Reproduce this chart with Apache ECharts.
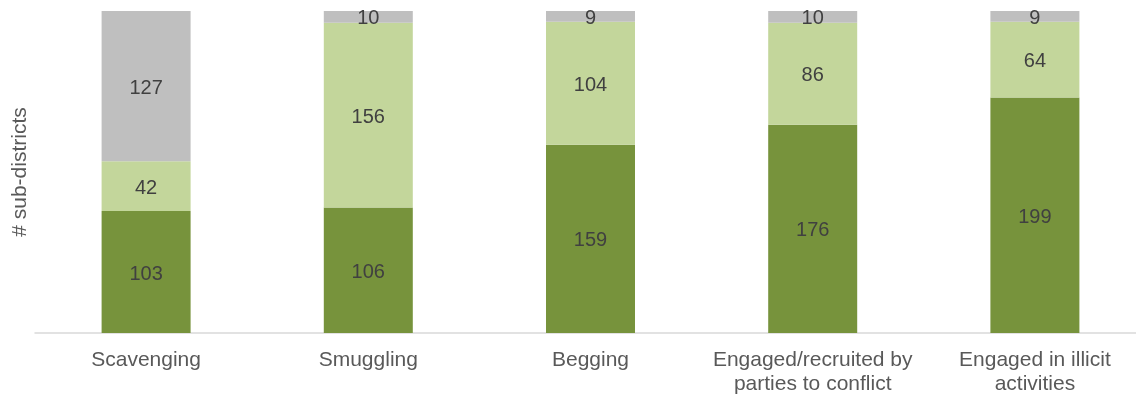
<!DOCTYPE html>
<html lang="en">
<head>
    <meta charset="utf-8" />
    <title># sub-districts</title>
    <script src="https://cdn.jsdelivr.net/npm/echarts@6/dist/echarts.min.js"></script>
    <style>
        body { margin: 0; background-color: #fff; }
        #main { width: 1136px; height: 394px; }
    </style>
</head>
<body>
<div id="main"></div>
<script type="text/javascript">
    let categories = ['Scavenging', 'Smuggling', 'Begging', 'Engaged/recruited by\nparties to conflict', 'Engaged in illicit\nactivities']
    let valuesDark = [103, 106, 159, 176, 199]
    let valuesLight = [42, 156, 104, 86, 64]
    let valuesGrey = [127, 10, 9, 10, 9]

    let colorDark = '#77933C'
    let colorLight = '#C3D69B'
    let colorGrey = '#BFBFBF'
    let colorLabel = '#404040'
    let colorAxisText = '#595959'
    let fontMain = 'Liberation Sans, Arial, sans-serif'

    let myChart = echarts.init(document.getElementById('main'), null, { renderer: 'canvas' })

    let labelCfg = {
        show: true,
        position: 'inside',
        offset: [0, 2],
        color: colorLabel,
        fontSize: 20,
        fontFamily: fontMain,
    }

    myChart.setOption({
        animation: false,
        grid: {
            left: 35,
            width: 1111,
            top: 11,
            bottom: 61,
            containLabel: false,
            outerBoundsMode: 'none',
        },
        xAxis: {
            type: 'category',
            data: categories,
            axisTick: { show: false },
            axisLine: { lineStyle: { color: '#D9D9D9', width: 1.5 } },
            axisLabel: {
                color: colorAxisText,
                fontSize: 21,
                fontFamily: fontMain,
                lineHeight: 24,
                margin: 15,
                interval: 0,
            },
        },
        yAxis: {
            type: 'value',
            min: 0,
            max: 272,
            name: '# sub-districts',
            nameLocation: 'middle',
            nameGap: 4,
            nameTextStyle: {
                color: colorAxisText,
                fontSize: 21,
                fontFamily: fontMain,
            },
            axisLine: { show: false },
            axisTick: { show: false },
            axisLabel: { show: false },
            splitLine: { show: false },
        },
        series: [
            {
                name: 'dark',
                type: 'bar',
                stack: 'total',
                barWidth: 89,
                data: valuesDark,
                itemStyle: { color: colorDark },
                label: labelCfg,
            },
            {
                name: 'light',
                type: 'bar',
                stack: 'total',
                barWidth: 89,
                data: valuesLight,
                itemStyle: { color: colorLight },
                label: labelCfg,
            },
            {
                name: 'grey',
                type: 'bar',
                stack: 'total',
                barWidth: 89,
                data: valuesGrey,
                itemStyle: { color: colorGrey },
                label: labelCfg,
            },
        ]
    })
</script>
</body>
</html>
